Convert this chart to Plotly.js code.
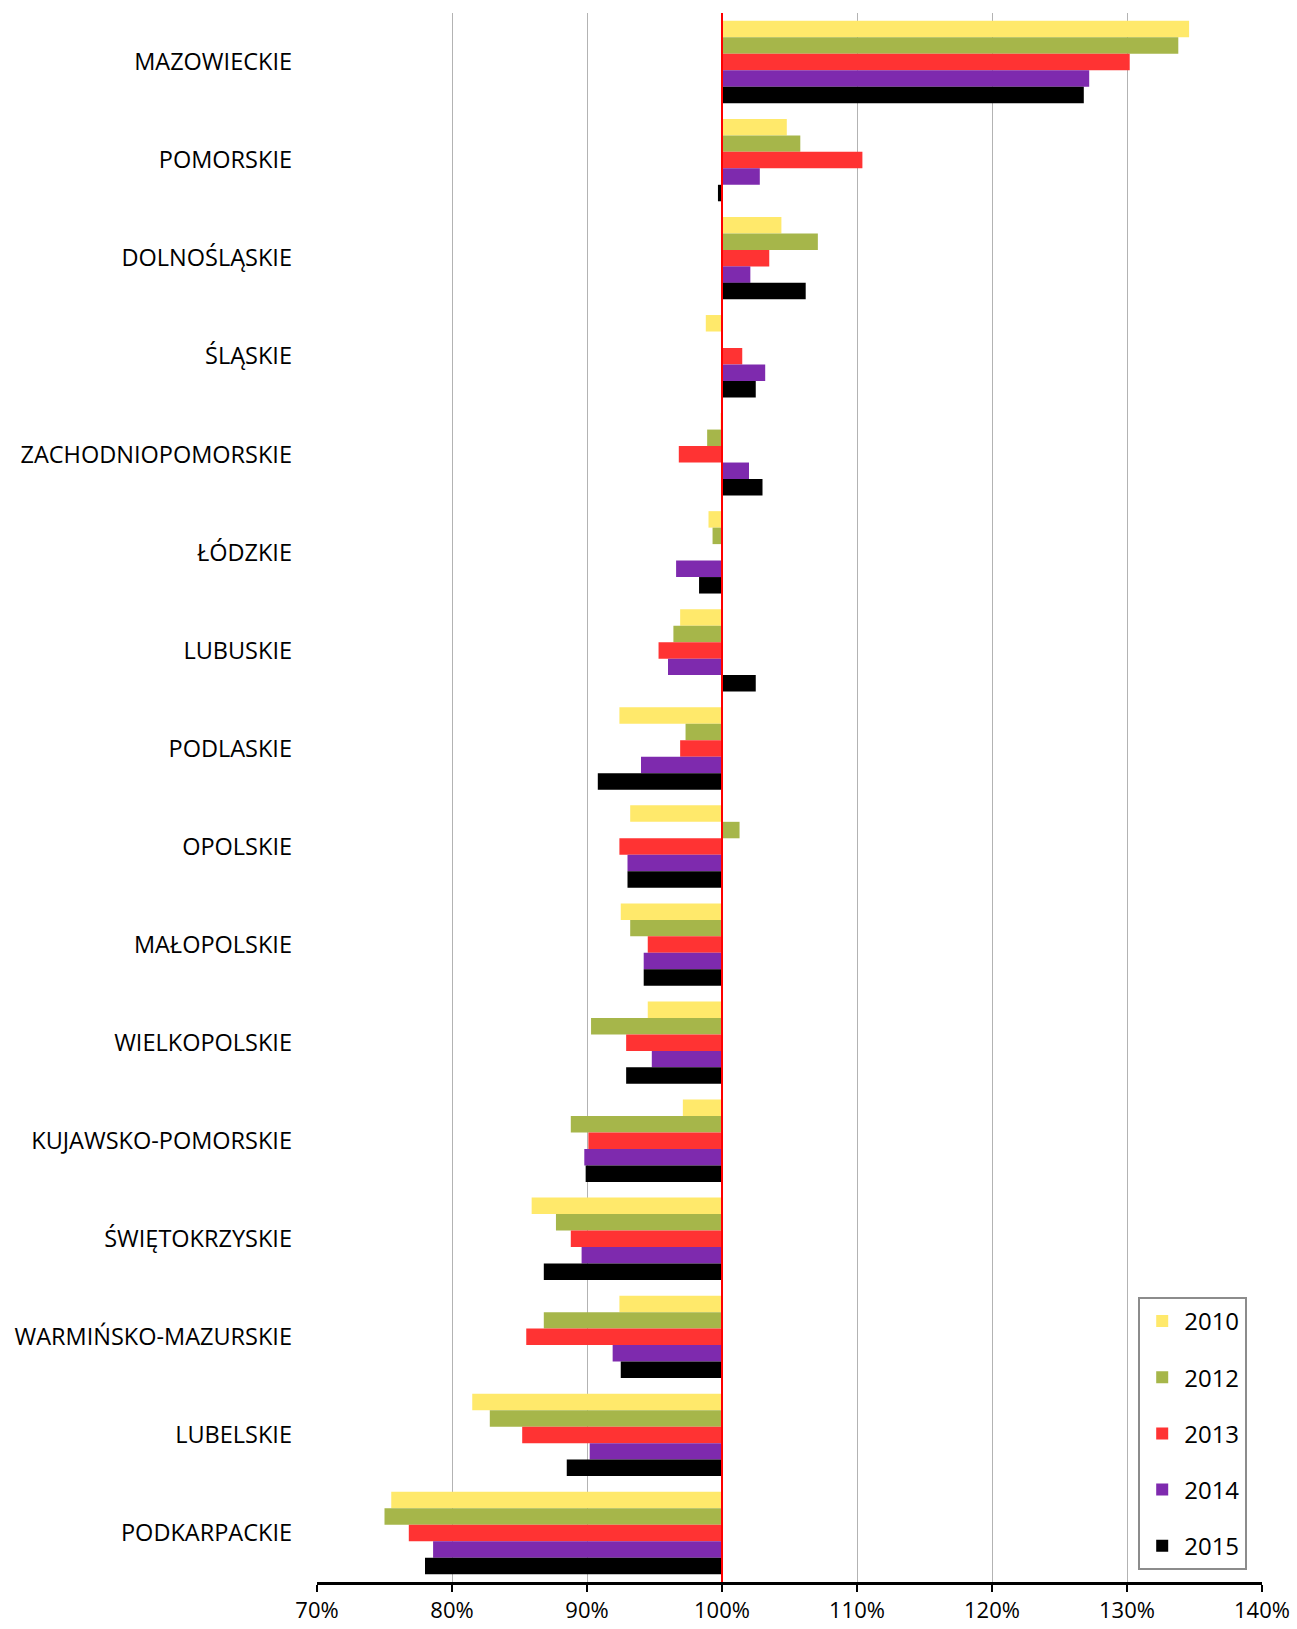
<!DOCTYPE html>
<html>
<head>
<meta charset="utf-8">
<script src="https://cdn.plot.ly/plotly-3.0.1.min.js"></script>
<style>html,body{margin:0;padding:0;background:#fff;}#chart{width:1297px;height:1629px;}</style>
</head>
<body>
<div id="chart"></div>
<script>
const regions = ["MAZOWIECKIE","POMORSKIE","DOLNOŚLĄSKIE","ŚLĄSKIE","ZACHODNIOPOMORSKIE","ŁÓDZKIE","LUBUSKIE","PODLASKIE","OPOLSKIE","MAŁOPOLSKIE","WIELKOPOLSKIE","KUJAWSKO-POMORSKIE","ŚWIĘTOKRZYSKIE","WARMIŃSKO-MAZURSKIE","LUBELSKIE","PODKARPACKIE"];
const years = ["2010","2012","2013","2014","2015"];
const v2010 = [134.6,104.8,104.4,98.8,99.9,99.0,96.9,92.4,93.2,92.5,94.5,97.1,85.9,92.4,81.5,75.5];
const v2012 = [133.8,105.8,107.1,100.0,98.9,99.3,96.4,97.3,101.3,93.2,90.3,88.8,87.7,86.8,82.8,75.0];
const v2013 = [130.2,110.4,103.5,101.5,96.8,100.0,95.3,96.9,92.4,94.5,92.9,90.1,88.8,85.5,85.2,76.8];
const v2014 = [127.2,102.8,102.1,103.2,102.0,96.6,96.0,94.0,93.0,94.2,94.8,89.8,89.6,91.9,90.2,78.6];
const v2015 = [126.8,99.7,106.2,102.5,103.0,98.3,102.5,90.8,93.0,94.2,92.9,89.9,86.8,92.5,88.5,78.0];
const colors = ["#FFE96B","#A6B64A","#FF3333","#7E2AAE","#000000"];
const xTicks = [70,80,90,100,110,120,130,140];
const xTickText = ["70%","80%","90%","100%","110%","120%","130%","140%"];

const series = [v2010,v2012,v2013,v2014,v2015];
const baseline = 100;
const traces = series.map((vals,i)=>({
  type:"bar",
  orientation:"h",
  name:years[i],
  legendgroup:years[i],
  y:regions,
  x:vals.map(v=>v-baseline),
  base:baseline,
  marker:{color:colors[i],line:{width:0}},
  hoverinfo:"name+x"
}));

const font = "Open Sans, Noto Sans, sans-serif";
const layout = {
  width:1297,height:1629,
  margin:{l:317,r:35,t:13,b:47},
  paper_bgcolor:"#fff",plot_bgcolor:"#fff",
  barmode:"group",bargap:0.16,bargroupgap:0,
  font:{family:font,size:23,color:"#000"},
  xaxis:{range:[70,140],tickvals:xTicks,ticktext:xTickText,
    showgrid:true,gridcolor:"#b3b3b3",gridwidth:1,zeroline:false,
    showline:true,linecolor:"#000",linewidth:2.5,
    ticks:"outside",ticklen:7,tickwidth:2,tickcolor:"#000",
    ticklabelstandoff:0,ticklabeloverflow:"allow",
    tickfont:{family:font,size:22,color:"#000"},fixedrange:true},
  yaxis:{autorange:"reversed",type:"category",showgrid:false,zeroline:false,showline:false,
    ticks:"",ticklabelstandoff:24,tickfont:{family:font,size:23.5,color:"#000"},fixedrange:true},
  shapes:[{type:"line",xref:"x",yref:"paper",x0:baseline,x1:baseline,y0:0,y1:1,
    line:{color:"#ff0000",width:2},layer:"above"}],
  showlegend:true,
  legend:{x:0.869,y:0.1817,xanchor:"left",yanchor:"top",
    bgcolor:"#fff",bordercolor:"#8c8c8c",borderwidth:2,
    traceorder:"grouped",tracegroupgap:22,
    font:{family:font,size:24,color:"#000"},itemwidth:34}
};
Plotly.newPlot("chart",traces,layout,{displayModeBar:false,staticPlot:true});
</script>
</body>
</html>
